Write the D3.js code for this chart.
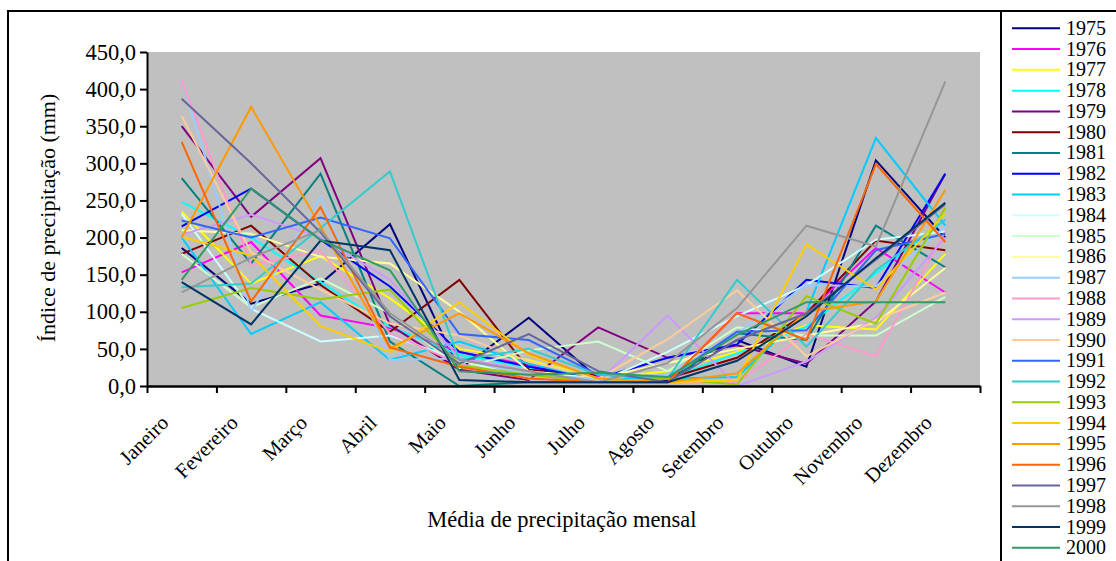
<!DOCTYPE html>
<html>
<head>
<meta charset="utf-8">
<title>Precipitação mensal</title>
<style>
  body { margin: 0; background: #fff; }
  svg text { font-family: "Liberation Serif", "Times New Roman", "DejaVu Serif", serif !important; fill: #000; }
</style>
</head>
<body>
<svg id="grafico" width="1116" height="561"></svg>
<script src="https://d3js.org/d3.v7.min.js"></script>
<script>
// meses (eixo x)
var meses = ["Janeiro", "Fevereiro", "Março", "Abril", "Maio", "Junho",
             "Julho", "Agosto", "Setembro", "Outubro", "Novembro", "Dezembro"];

// anos da legenda
var anos = ["1975", "1976", "1977", "1978", "1979", "1980", "1981", "1982", "1983",
            "1984", "1985", "1986", "1987", "1988", "1989", "1990", "1991", "1992",
            "1993", "1994", "1995", "1996", "1997", "1998", "1999", "2000"];

// cores de cada ano (paleta do Excel)
var cores = ["#000080", "#FF00FF", "#FFFF00", "#00FFFF", "#800080", "#800000", "#008080",
             "#0000FF", "#00CCFF", "#CCFFFF", "#CCFFCC", "#FFFF99", "#99CCFF", "#FF99CC",
             "#CC99FF", "#FFCC99", "#3366FF", "#33CCCC", "#99CC00", "#FFCC00", "#FF9900",
             "#FF6600", "#666699", "#969696", "#003366", "#339966"];

// precipitação mensal (mm), uma linha por ano
var valores = [
  [186, 111, 138, 218,  22,  92,  10,   8,  62,  26, 304, 200], // 1975
  [153, 194,  95,  78,  46,  28,  12,   5,  98,  98, 186, 126], // 1976
  [235, 138, 175, 118,  50,  35,  10,  20,  46,  82,  76, 178], // 1977
  [248, 200, 140,  80,  42,  25,  10,  10,  44,  80, 152, 224], // 1978
  [350, 228, 307,  82,  22,   8,  79,  38,  55,  30, 114, 286], // 1979
  [178, 216, 136,  73, 143,  22,  15,  10,  38,  98, 196, 183], // 1980
  [280, 165, 286,  60,   0,   5,   5,   5,  71,  62, 216, 160], // 1981
  [215, 266, 197, 134,  46,  26,  10,  38,  56, 143, 132, 286], // 1982
  [200,  70, 113,  35,  60,  30,  10,  10,  12, 100, 334, 216], // 1983
  [232, 104,  60,  68,  35,  10,   5,  46,  94, 136, 197, 208], // 1984
  [178, 106, 145,  98,  24,  48,  60,  20,  79,  68,  68, 120], // 1985
  [210, 205, 174, 165, 100,  20,  10,  31,  50,  68,  85, 159], // 1986
  [414, 100, 255,  35,  37,  15,  10,  15,  71, 136, 134, 215], // 1987
  [412, 163, 182,  71,  30,  10,   5,   5,   5,  70,  40, 208], // 1988
  [204, 231, 200, 143,  38,  20,   5,  95,   0,  33,  92, 200], // 1989
  [364, 180, 130,  84,  68,  33,  10,  63, 129,  40,  89, 126], // 1990
  [223, 200, 227, 199,  70,  62,  15,  10,  73,  75, 183, 205], // 1991
  [133, 138, 213, 289,  35,  50,  15,  10, 143,  53, 156, 224], // 1992
  [105, 132, 117, 130,  28,  15,   5,  10,   2, 121,  84, 240], // 1993
  [201, 176,  81,  46, 113,  42,  10,   5,   8, 191, 130, 233], // 1994
  [200, 376, 215,  51,  98,  44,  10,   5,  17, 100, 114, 264], // 1995
  [329, 114, 241,  52,  26,  10,   5,   5,  98,  62, 299, 194], // 1996
  [387, 300, 207,  94,  30,  70,  20,   5,  62,  98, 170, 245], // 1997
  [126, 173, 210,  98,  35,  20,   5,  31, 105, 216, 188, 410], // 1998
  [140,  83, 196, 183,   8,   5,   5,   5,  34,  94, 172, 247], // 1999
  [143, 266, 197, 156,  20,  15,  18,  12,  69, 113, 113, 113]  // 2000
];

var yTicks = d3.range(0, 451, 50);

var fonte = "Liberation Serif, Times New Roman, DejaVu Serif, serif";
var svg = d3.select("#grafico").attr("font-family", fonte);

// área do gráfico
var x0 = 147, x1 = 980, yTopo = 52, yBase = 386;

var x = d3.scaleBand().domain(meses).range([x0, x1]).padding(0);
var xDiv = d3.scaleLinear().domain([0, meses.length]).range([x0, x1]);
var y = d3.scaleLinear().domain([0, 450]).range([yBase, yTopo]);

// molduras
svg.append("rect").attr("x", 8).attr("y", 11).attr("width", 993).attr("height", 600)
  .attr("fill", "#fff").attr("stroke", "#000").attr("stroke-width", 2);
svg.append("rect").attr("x", 1001).attr("y", 11).attr("width", 200).attr("height", 600)
  .attr("fill", "#fff").attr("stroke", "#000").attr("stroke-width", 2);

// fundo cinza
svg.append("rect").attr("x", x0).attr("y", yTopo).attr("width", x1 - x0).attr("height", yBase - yTopo)
  .attr("fill", "#C0C0C0");

// linhas
var linha = d3.line()
  .x(function(d, i) { return x(meses[i]) + x.bandwidth() / 2; })
  .y(function(d) { return y(d); });

svg.append("g").selectAll("path")
  .data(valores)
  .enter()
  .append("path")
  .attr("d", linha)
  .attr("fill", "none")
  .attr("stroke", function(d, i) { return cores[i]; })
  .attr("stroke-width", 2);

// eixo y
var eixoY = svg.append("g").attr("transform", "translate(" + x0 + ",0)")
  .call(d3.axisLeft(y).tickValues(yTicks).tickSize(7).tickSizeOuter(0)
    .tickFormat(function(d) { return d3.format(".1f")(d).replace(".", ","); }));
eixoY.attr("font-family", fonte);
eixoY.select(".domain").attr("stroke-width", 2);
eixoY.selectAll("line").attr("stroke-width", 2);
eixoY.selectAll("text").attr("font-size", 22.5).attr("x", -11);

// eixo x (marcas entre categorias)
var eixoX = svg.append("g").attr("transform", "translate(0," + yBase + ")")
  .call(d3.axisBottom(xDiv).tickValues(d3.range(meses.length + 1)).tickSize(7)
    .tickSizeOuter(0).tickFormat(""));
eixoX.select(".domain").attr("stroke-width", 2.5);
eixoX.selectAll("line").attr("stroke-width", 2);

// rótulos dos meses
svg.append("g").selectAll("text")
  .data(meses)
  .enter()
  .append("text")
  .attr("transform", function(d) {
    return "translate(" + (x(d) + x.bandwidth() / 2 - 12) + "," + 424 + ") rotate(-45)";
  })
  .attr("text-anchor", "end")
  .attr("font-size", 20.5)
  .text(function(d) { return d; });

// títulos
svg.append("text").attr("x", 562).attr("y", 527).attr("text-anchor", "middle")
  .attr("font-size", 22.5).text("Média de precipitação mensal");
svg.append("text").attr("transform", "translate(55,218) rotate(-90)")
  .attr("text-anchor", "middle").attr("font-size", 22)
  .text("Índice de precipitação (mm)");

// legenda
var leg = svg.append("g").selectAll("g")
  .data(anos)
  .enter()
  .append("g")
  .attr("transform", function(d, i) { return "translate(0," + (28.3 + i * 20.78) + ")"; });
leg.append("line").attr("x1", 1012).attr("x2", 1060)
  .attr("stroke", function(d, i) { return cores[i]; }).attr("stroke-width", 2);
leg.append("text").attr("x", 1066).attr("y", 6.5).attr("font-size", 20)
  .text(function(d) { return d; });
</script>
</body>
</html>
